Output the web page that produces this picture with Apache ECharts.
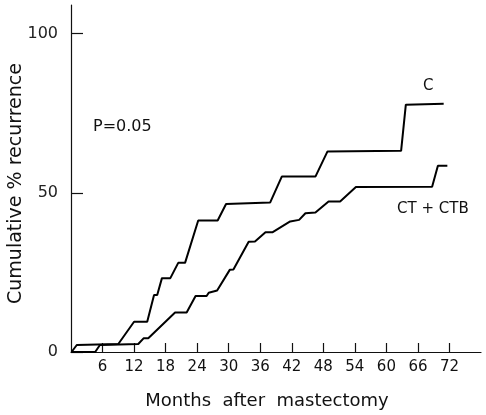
<!DOCTYPE html>
<html>
  <head>
    <meta charset="utf-8">
    <title>Cumulative recurrence</title>
    <script src="https://cdn.jsdelivr.net/npm/echarts@6/dist/echarts.min.js"></script>
  </head>
  <body style="margin:0">
    <div id="main" style="width: 486px;height:415px;"></div>
    <script type="text/javascript">
      // months after mastectomy, cumulative % recurrence
      var cMonths = [0.1, 1.1, 9.0, 12.0, 14.5, 15.8, 16.4, 17.3, 18.9, 20.4, 21.7, 24.2, 27.9, 29.5, 37.9, 40.1, 46.5, 48.8, 62.8, 63.7, 70.9];
      var cValues = [0, 2.2, 2.5, 9.5, 9.5, 17.9, 17.9, 23.2, 23.2, 28, 28, 41.3, 41.3, 46.5, 47, 55.1, 55.1, 63, 63.2, 77.7, 78];

      var ctbMonths = [0.1, 4.6, 5.5, 12.8, 13.8, 14.7, 19.8, 22.0, 23.7, 25.8, 26.2, 27.8, 30.2, 30.9, 33.8, 35.0, 37.0, 38.3, 41.7, 43.4, 44.6, 46.5, 49.0, 51.2, 54.2, 68.7, 69.8, 71.6];
      var ctbValues = [0, 0, 2.2, 2.5, 4.3, 4.3, 12.4, 12.4, 17.6, 17.6, 18.6, 19.3, 25.8, 25.9, 34.6, 34.7, 37.6, 37.6, 41, 41.5, 43.6, 43.8, 47.3, 47.3, 51.8, 51.9, 58.5, 58.5];

      var xTicks = [6, 12, 18, 24, 30, 36, 42, 48, 54, 60, 66, 72];
      var yTicks = [0, 50, 100];

      function pairs(xs, ys) {
        return xs.map((x, i) => [x, ys[i]])
      }

      var myChart = echarts.init(document.getElementById('main'));

      var font = 'DejaVu Sans';

      var option = {
        animation: false,
        grid: { left: 71, right: 5, top: 5, bottom: 63, outerBoundsMode: 'none', containLabel: false },
        xAxis: {
          type: 'value',
          min: 0,
          max: 78,
          interval: 6,
          name: 'Months  after  mastectomy',
          nameLocation: 'middle',
          nameGap: 40,
          nameMoveOverlap: false,
          nameTextStyle: { color: '#111', fontSize: 18, fontFamily: font, padding: [0, 18, 0, 0] },
          axisLine: { lineStyle: { color: '#111', width: 1.2 } },
          axisTick: { inside: true, length: 9, customValues: xTicks, lineStyle: { color: '#111', width: 1.2 } },
          axisLabel: { customValues: xTicks, color: '#111', fontSize: 15, fontFamily: font, margin: 8 },
          splitLine: { show: false }
        },
        yAxis: {
          type: 'value',
          min: 0,
          max: 109,
          interval: 50,
          name: 'Cumulative % recurrence',
          nameLocation: 'middle',
          nameGap: 45,
          nameMoveOverlap: false,
          nameTextStyle: { color: '#111', fontSize: 19, fontFamily: font, padding: [0, 10, 0, 0] },
          axisLine: { show: true, lineStyle: { color: '#111', width: 1.2 } },
          axisTick: { show: true, inside: true, length: 12, customValues: yTicks, lineStyle: { color: '#111', width: 1.2 } },
          axisLabel: { customValues: yTicks, color: '#222', fontSize: 16, fontFamily: font, margin: 13 },
          splitLine: { show: false }
        },
        graphic: [
          { type: 'text', left: 93, top: 119, style: { text: 'P=0.05', fill: '#111', fontSize: 16, fontFamily: font } },
          { type: 'text', left: 423, top: 79, style: { text: 'C', fill: '#111', fontSize: 15, fontFamily: font } },
          { type: 'text', left: 397, top: 202, style: { text: 'CT + CTB', fill: '#111', fontSize: 15, fontFamily: font } }
        ],
        series: [
          {
            name: 'C',
            type: 'line',
            data: pairs(cMonths, cValues),
            symbol: 'none',
            lineStyle: { color: '#000', width: 2 }
          },
          {
            name: 'CT+CTB',
            type: 'line',
            data: pairs(ctbMonths, ctbValues),
            symbol: 'none',
            lineStyle: { color: '#000', width: 2 }
          }
        ]
      };

      myChart.setOption(option);
    </script>
  </body>
</html>
